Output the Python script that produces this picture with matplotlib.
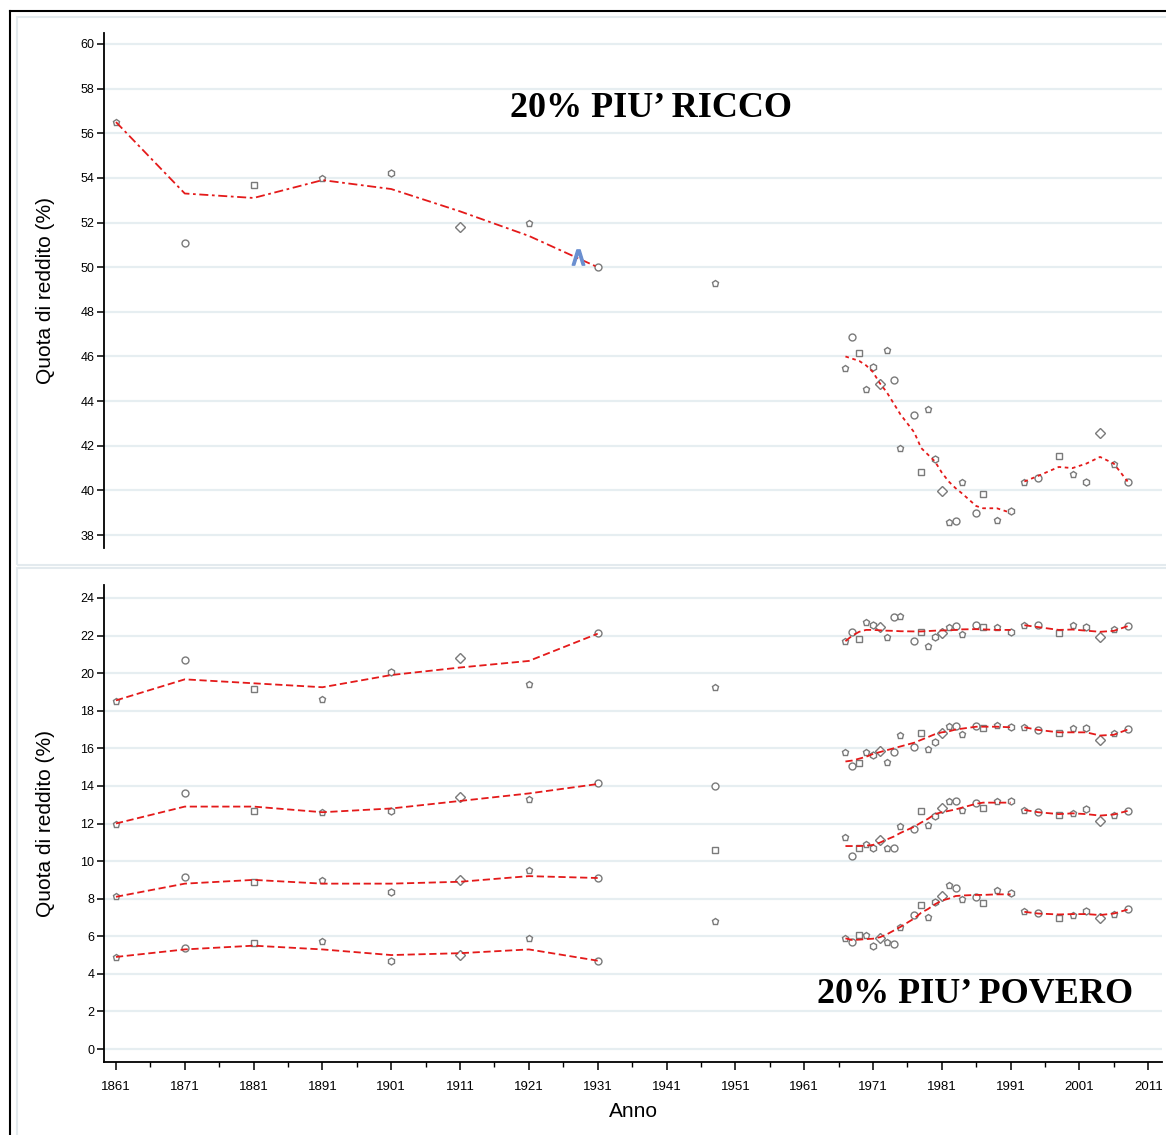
import matplotlib.pyplot as plt
from matplotlib.lines import Line2D
from matplotlib.patches import Rectangle

# anni dei censimenti storici e delle indagini del dopoguerra
anni_storici = [1861, 1871, 1881, 1891, 1901, 1911, 1921, 1931]
anno_1948 = [1948]
anni_a = [1967, 1968, 1969, 1970, 1971, 1972, 1973, 1974, 1975, 1977, 1978, 1979,
          1980, 1981, 1982, 1983, 1984, 1986, 1987, 1989, 1991]
anni_b = [1993, 1995, 1998, 2000, 2002, 2004, 2006, 2008]

# 20% piu' ricco
ricco_pt = [56.5, 51.1, 53.7, 54.0, 54.2, 51.8, 52.0, 50.0]
ricco_48 = [49.3]
ricco_line = [56.5, 53.3, 53.1, 53.9, 53.5, 52.5, 51.4, 50.0]
ricco_pt_a = [45.47, 46.86, 46.14, 44.54, 45.54, 44.77, 46.29, 44.95, 41.91, 43.38, 40.81,
              43.63, 41.39, 39.99, 38.57, 38.63, 40.39, 39.0, 39.84, 38.67, 39.08]
ricco_line_a = [46.0, 45.9, 45.8, 45.6, 45.3, 44.8, 44.4, 43.9, 43.4, 42.6, 41.9, 41.6,
                41.3, 40.8, 40.4, 40.1, 39.85, 39.3, 39.2, 39.2, 39.0]
ricco_pt_b = [40.39, 40.57, 41.55, 40.73, 40.39, 42.55, 41.2, 40.39]
ricco_line_b = [40.4, 40.65, 41.05, 41.0, 41.2, 41.5, 41.2, 40.4]

# quarto, terzo, secondo e primo quintile
q4_pt = [18.5, 20.7, 19.15, 18.6, 20.07, 20.8, 19.43, 22.14]
q4_line = [18.55, 19.67, 19.46, 19.25, 19.9, 20.3, 20.65, 22.1]
q3_pt = [11.97, 13.62, 12.67, 12.61, 12.67, 13.41, 13.3, 14.16]
q3_line = [12.0, 12.9, 12.9, 12.6, 12.8, 13.2, 13.6, 14.1]
q2_pt = [8.14, 9.15, 8.89, 8.99, 8.36, 8.99, 9.53, 9.1]
q2_line = [8.1, 8.8, 9.0, 8.8, 8.8, 8.9, 9.2, 9.1]
q1_pt = [4.9, 5.38, 5.64, 5.75, 4.68, 5.0, 5.91, 4.68]
q1_line = [4.9, 5.3, 5.5, 5.3, 5.0, 5.1, 5.3, 4.7]
quint_48 = [19.27, 14.0, 10.59, 6.81]

q4_pt_a = [21.73, 22.18, 21.8, 22.74, 22.57, 22.44, 21.94, 22.98, 23.06, 21.73, 22.18, 21.45,
           21.94, 22.12, 22.48, 22.51, 22.07, 22.57, 22.44, 22.48, 22.21]
q4_line_a = [21.7, 22.0, 22.2, 22.3, 22.3, 22.28, 22.26, 22.25, 22.23, 22.22, 22.22, 22.24,
             22.26, 22.27, 22.28, 22.3, 22.33, 22.34, 22.33, 22.3, 22.3]
q4_pt_b = [22.57, 22.57, 22.12, 22.57, 22.48, 21.94, 22.34, 22.53]
q4_line_b = [22.55, 22.45, 22.3, 22.32, 22.26, 22.2, 22.25, 22.5]

q3_pt_a = [15.79, 15.08, 15.24, 15.79, 15.65, 15.88, 15.26, 15.82, 16.71, 16.06, 16.8, 15.97,
           16.36, 16.8, 17.19, 17.19, 16.76, 17.19, 17.07, 17.24, 17.12]
q3_line_a = [15.3, 15.35, 15.45, 15.55, 15.7, 15.8, 15.9, 16.0, 16.1, 16.3, 16.45, 16.6,
             16.75, 16.85, 16.9, 17.0, 17.05, 17.15, 17.15, 17.15, 17.12]
q3_pt_b = [17.12, 16.98, 16.8, 17.07, 17.07, 16.45, 16.8, 17.01]
q3_line_b = [17.12, 16.98, 16.85, 16.85, 16.85, 16.68, 16.72, 17.0]

q2_pt_a = [11.27, 10.29, 10.68, 10.91, 10.68, 11.12, 10.68, 10.68, 11.87, 11.71, 12.67, 11.92,
           12.42, 12.84, 13.21, 13.21, 12.72, 13.11, 12.81, 13.21, 13.21]
q2_line_a = [10.8, 10.8, 10.8, 10.82, 10.86, 10.98, 11.15, 11.3, 11.5, 11.83, 12.05, 12.25,
             12.5, 12.6, 12.67, 12.75, 12.85, 13.05, 13.11, 13.11, 13.11]
q2_pt_b = [12.72, 12.63, 12.45, 12.54, 12.76, 12.15, 12.45, 12.67]
q2_line_b = [12.72, 12.6, 12.5, 12.54, 12.5, 12.42, 12.48, 12.67]

q1_pt_a = [5.89, 5.71, 6.07, 6.07, 5.48, 5.89, 5.71, 5.57, 6.51, 7.13, 7.66, 7.04,
           7.84, 8.14, 8.73, 8.55, 7.97, 8.11, 7.75, 8.46, 8.32]
q1_line_a = [5.89, 5.8, 5.82, 5.85, 5.87, 5.95, 6.1, 6.3, 6.5, 6.95, 7.25, 7.45,
             7.7, 7.9, 8.0, 8.14, 8.17, 8.2, 8.2, 8.23, 8.23]
q1_pt_b = [7.34, 7.25, 6.99, 7.13, 7.36, 6.96, 7.21, 7.45]
q1_line_b = [7.3, 7.21, 7.16, 7.18, 7.18, 7.13, 7.21, 7.42]

xticks = list(range(1861, 2012, 10))
minor_xticks = list(range(1866, 2012, 10))

plt.rcParams['font.family'] = ['Liberation Sans', 'DejaVu Sans']

ROSSO = '#e41a1a'
GRIGIO = '#7a7a7a'
GRID = '#e6eef1'
FORME = ['p', 'o', 's', 'p', 'h', 'D', 'p', 'o']


def punti(ax, x, y):
    # marcatori vuoti, forme miste
    for i, (xx, yy) in enumerate(zip(x, y)):
        ax.plot(xx, yy, marker=FORME[i % len(FORME)], ms=5.0, mfc='white',
                mec=GRIGIO, mew=1.0, ls='none', zorder=3)


def linea(ax, x, y, stile=(0, (4, 2))):
    ax.plot(x, y, color=ROSSO, lw=1.3, ls=stile, zorder=4)


def assi(ax, ylim, yticks):
    ax.set_xlim(1859.26, 2013.0)
    ax.set_ylim(*ylim)
    ax.set_yticks(yticks)
    ax.set_yticklabels([str(v) for v in yticks], fontsize=9)
    for s in ['top', 'right']:
        ax.spines[s].set_visible(False)
    ax.spines['left'].set_linewidth(1.3)
    ax.tick_params(axis='y', direction='out', length=5, width=1.1, pad=2)
    ax.grid(axis='y', color=GRID, lw=1.6)
    ax.set_axisbelow(True)
    ax.set_ylabel('Quota di reddito (%)', fontsize=15, labelpad=18)


fig = plt.figure(figsize=(11.66, 11.35), dpi=100)

# cornici dei pannelli
fig.add_artist(Line2D([10 / 1166, 10 / 1166], [0, 1 - 11 / 1135], color='black', lw=1.5))
fig.add_artist(Line2D([10 / 1166, 1], [1 - 11 / 1135, 1 - 11 / 1135], color='black', lw=1.5))
fig.add_artist(Rectangle((17 / 1166, 1 - 565 / 1135), 1.0, 548 / 1135, fill=False,
                         ec='#e3eaee', lw=1.5))
fig.add_artist(Rectangle((17 / 1166, -0.01), 1.0, (1135 - 568) / 1135 + 0.01, fill=False,
                         ec='#e3eaee', lw=1.5))

# pannello alto: 20% piu' ricco
ax1 = fig.add_axes([104 / 1166, 1 - 548 / 1135, 1058 / 1166, 515 / 1135])
assi(ax1, (37.42, 60.49), list(range(38, 61, 2)))
ax1.spines['bottom'].set_visible(False)
ax1.set_xticks([])
linea(ax1, anni_storici, ricco_line, stile=(0, (5, 2, 1.5, 2)))
punti(ax1, anni_storici, ricco_pt)
punti(ax1, anno_1948, ricco_48)
linea(ax1, anni_a, ricco_line_a, stile=(0, (2, 2)))
linea(ax1, anni_b, ricco_line_b, stile=(0, (2, 2)))
punti(ax1, anni_a, ricco_pt_a)
punti(ax1, anni_b, ricco_pt_b)
ax1.plot([1928.2], [50.45], marker=r'$\wedge$', ms=11, color='#6a8fd0', zorder=5)
ax1.text(1938.8, 57.1, '20% PIU\u2019 RICCO', fontsize=26, fontweight='bold',
         family='Liberation Serif', ha='center', va='center')

# pannello basso: quintili
ax2 = fig.add_axes([104 / 1166, 1 - 1062 / 1135, 1058 / 1166, 477 / 1135])
assi(ax2, (-0.69, 24.69), list(range(0, 25, 2)))
ax2.spines['bottom'].set_linewidth(1.3)
ax2.set_xticks(xticks)
ax2.set_xticklabels([str(v) for v in xticks], fontsize=9.5)
ax2.set_xticks(minor_xticks, minor=True)
ax2.tick_params(axis='x', which='major', direction='out', length=6, width=1.1, pad=8)
ax2.tick_params(axis='x', which='minor', direction='out', length=3.5, width=1.0)
ax2.set_xlabel('Anno', fontsize=15, labelpad=6)

serie = [
    (q4_pt, q4_line, q4_pt_a, q4_line_a, q4_pt_b, q4_line_b),
    (q3_pt, q3_line, q3_pt_a, q3_line_a, q3_pt_b, q3_line_b),
    (q2_pt, q2_line, q2_pt_a, q2_line_a, q2_pt_b, q2_line_b),
    (q1_pt, q1_line, q1_pt_a, q1_line_a, q1_pt_b, q1_line_b),
]
for pt, ln, pt_a, ln_a, pt_b, ln_b in serie:
    linea(ax2, anni_storici, ln)
    punti(ax2, anni_storici, pt)
    linea(ax2, anni_a, ln_a)
    linea(ax2, anni_b, ln_b)
    punti(ax2, anni_a, pt_a)
    punti(ax2, anni_b, pt_b)
punti(ax2, anno_1948 * 4, quint_48)

ax2.text(1985.9, 2.9, '20% PIU\u2019 POVERO', fontsize=26, fontweight='bold',
         family='Liberation Serif', ha='center', va='center')

fig.savefig('out.png', dpi=100)
